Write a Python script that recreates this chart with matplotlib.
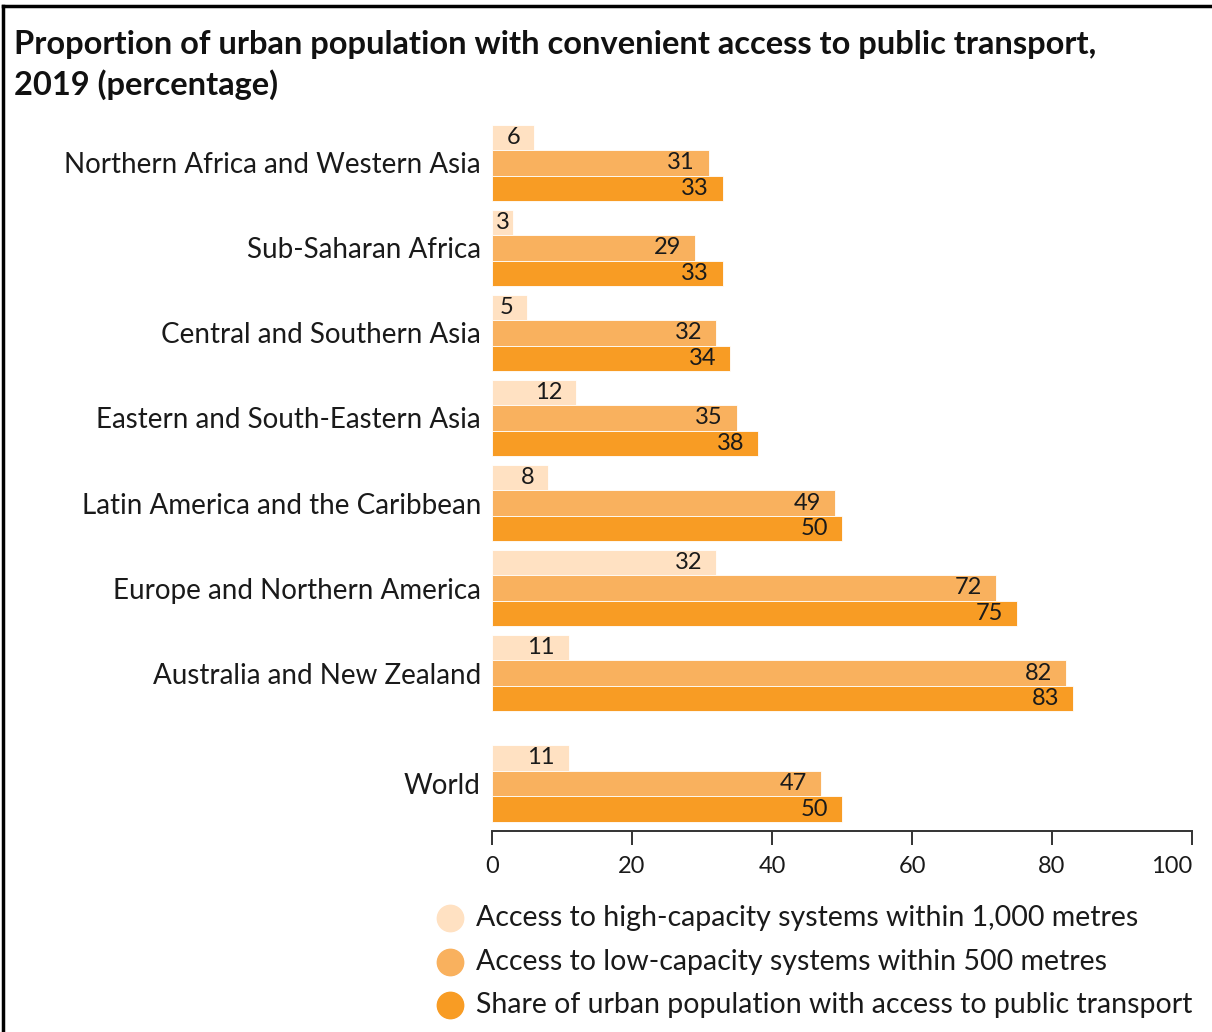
import matplotlib
matplotlib.use("Agg")
import matplotlib.pyplot as plt
from matplotlib.lines import Line2D

categories = [
    "Northern Africa and Western Asia",
    "Sub-Saharan Africa",
    "Central and Southern Asia",
    "Eastern and South-Eastern Asia",
    "Latin America and the Caribbean",
    "Europe and Northern America",
    "Australia and New Zealand",
    "World",
]
high_capacity = [6, 3, 5, 12, 8, 32, 11, 11]
low_capacity = [31, 29, 32, 35, 49, 72, 82, 47]
share_total = [33, 33, 34, 38, 50, 75, 83, 50]
series_names = [
    "Access to high-capacity systems within 1,000 metres",
    "Access to low-capacity systems within 500 metres",
    "Share of urban population with access to public transport",
]
series_values = [high_capacity, low_capacity, share_total]
colors = ["#FFE1C2", "#F9B15E", "#F89C24"]
xticks = [0, 20, 40, 60, 80, 100]

W, H = 1212, 1032
fig = plt.figure(figsize=(W / 100, H / 100), dpi=100)
fig.patch.set_facecolor("white")

ax = fig.add_axes([492 / W, 1 - 831 / H, 700 / W, (831 - 120) / H])

# group positions: evenly spaced, World separated by a wider gap
positions = [float(i) for i in range(len(categories) - 1)] + [len(categories) - 2 + 1.3]
bar_h = 0.3
offsets = [-bar_h, 0.0, bar_h]
txt_font = "Lato"
txt_col = "#1a1a1a"

for s, (vals, col, off) in enumerate(zip(series_values, colors, offsets)):
    ys = [p + off for p in positions]
    ax.barh(ys, vals, height=bar_h, color=col, edgecolor="white", linewidth=0.6)
    for y, v in zip(ys, vals):
        if v - 2 >= 2.4:
            ax.text(v - 2.0, y, str(v), ha="right", va="center", fontsize=17,
                    family=txt_font, color=txt_col)
        else:
            ax.text(0.6, y, str(v), ha="left", va="center", fontsize=17,
                    family=txt_font, color=txt_col)

ax.set_xlim(0, 100)
ax.set_ylim((831 - 163) / 85.0, -(163 - 120) / 85.0)
ax.set_yticks(positions)
ax.set_yticklabels(categories, fontsize=20, family=txt_font, color=txt_col)
ax.tick_params(axis="y", length=0, pad=8)
ax.set_xticks(xticks)
ax.set_xticklabels([str(t) for t in xticks], fontsize=17, family=txt_font, color=txt_col)
ax.tick_params(axis="x", direction="out", length=10, width=1.4, color="#333333", pad=8)
ax.get_xticklabels()[-1].set_horizontalalignment("right")
for sp in ["left", "right", "top"]:
    ax.spines[sp].set_visible(False)
ax.spines["bottom"].set_color("#333333")
ax.spines["bottom"].set_linewidth(1.4)

fig.text(14 / W, 1 - 65 / H, "Proportion of urban population with convenient access to public transport,\n2019 (percentage)",
         ha="left", va="center", fontsize=23.5, fontweight="bold", family=txt_font,
         color="#111111", linespacing=1.38)

# legend (manually laid out rows)
legend_rows_px = [918, 962, 1005]
for name, c, ypx in zip(series_names, colors, legend_rows_px):
    fig.add_artist(Line2D([450 / W], [1 - ypx / H], marker="o", linestyle="none",
                          markersize=19, markerfacecolor=c, markeredgecolor=c,
                          transform=fig.transFigure))
    fig.text(476 / W, 1 - ypx / H, name, ha="left", va="center", fontsize=20.5,
             family=txt_font, color=txt_col)

# frame lines (top and left)
fig.add_artist(Line2D([3 / W, 1], [1 - 6 / H, 1 - 6 / H], color="black", linewidth=2.5,
                      transform=fig.transFigure))
fig.add_artist(Line2D([3 / W, 3 / W], [0, 1 - 6 / H], color="black", linewidth=2.5,
                      transform=fig.transFigure))

fig.savefig("out.png", dpi=100)
